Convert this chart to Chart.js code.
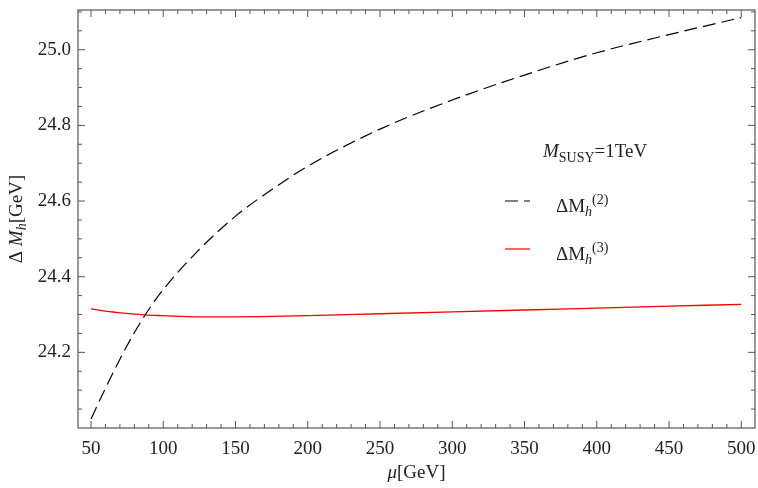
<!DOCTYPE html>
<html>
<head>
<meta charset="utf-8">
<script src="https://cdn.jsdelivr.net/npm/chart.js@4.4.0/dist/chart.umd.min.js"></script>
<style>
  body { margin: 0; background: #fff; }
  #wrap { width: 758px; height: 488px; }
</style>
</head>
<body>
<div id="wrap"><canvas id="canvas"></canvas></div>
<script>
// mu in GeV
const mu = [50, 60, 75, 87, 100, 125, 150, 175, 200, 250, 300, 350, 400, 450, 500];
// Delta M_h^(2)
const dM2 = [24.024, 24.105, 24.218, 24.296, 24.366, 24.472, 24.560, 24.630, 24.692, 24.790, 24.867, 24.933, 24.992, 25.040, 25.085];
// Delta M_h^(3)
const dM3 = [24.315, 24.309, 24.303, 24.299, 24.297, 24.294, 24.294, 24.295, 24.297, 24.302, 24.307, 24.312, 24.317, 24.322, 24.327];

const xTicks = [50, 100, 150, 200, 250, 300, 350, 400, 450, 500];
const yTicks = [24.2, 24.4, 24.6, 24.8, 25.0];

const serif = '"Liberation Serif", "DejaVu Serif", serif';
const frameColor = '#555';

// frame, inward ticks, axis titles and legend
const framePlugin = {
    id: 'frame',
    afterDraw(chart) {
        const c = chart.ctx;
        const a = chart.chartArea;
        const xs = chart.scales.x, ys = chart.scales.y;
        c.save();
        c.strokeStyle = frameColor;
        c.lineWidth = 1.2;
        c.strokeRect(a.left, a.top, a.right - a.left, a.bottom - a.top);

        c.lineWidth = 1;
        function xt(v, len) {
            const p = xs.getPixelForValue(v);
            c.beginPath();
            c.moveTo(p, a.bottom); c.lineTo(p, a.bottom - len);
            c.moveTo(p, a.top); c.lineTo(p, a.top + len);
            c.stroke();
        }
        function yt(v, len) {
            const p = ys.getPixelForValue(v);
            c.beginPath();
            c.moveTo(a.left, p); c.lineTo(a.left + len, p);
            c.moveTo(a.right, p); c.lineTo(a.right - len, p);
            c.stroke();
        }
        for (let v = 50; v <= 500; v += 10) {
            xt(v, v % 50 === 0 ? 7 : 4);
        }
        for (let i = 1; i <= 22; i++) {
            const v = 24 + i * 0.05;
            yt(v, i % 4 === 0 ? 7 : 4);
        }

        c.fillStyle = '#222';
        c.textBaseline = 'alphabetic';
        // x title
        c.font = 'italic 19px ' + serif;
        let w1 = c.measureText('\u03bc').width;
        c.font = '19px ' + serif;
        let w2 = c.measureText('[GeV]').width;
        let x0 = (a.left + a.right) / 2 - (w1 + w2) / 2;
        c.font = 'italic 19px ' + serif;
        c.fillText('\u03bc', x0, 478);
        c.font = '19px ' + serif;
        c.fillText('[GeV]', x0 + w1, 478);

        // y title (rotated)
        c.save();
        c.translate(22, (a.top + a.bottom) / 2);
        c.rotate(-Math.PI / 2);
        const parts = [
            ['\u0394 ', '19px ', 0],
            ['M', 'italic 19px ', 0],
            ['h', 'italic 14px ', 4],
            ['[GeV]', '19px ', 0]
        ];
        let tw = 0;
        parts.forEach(p => { c.font = p[1] + serif; tw += c.measureText(p[0]).width; });
        let px = -tw / 2;
        parts.forEach(p => {
            c.font = p[1] + serif;
            c.fillText(p[0], px, p[2]);
            px += c.measureText(p[0]).width;
        });
        c.restore();

        // M_SUSY label
        let lx = 543;
        c.font = 'italic 19px ' + serif;
        c.fillText('M', lx, 157);
        lx += c.measureText('M').width;
        c.font = '14px ' + serif;
        c.fillText('SUSY', lx, 162);
        lx += c.measureText('SUSY').width;
        c.font = '19px ' + serif;
        c.fillText('=1TeV', lx, 157);

        // legend entries
        function entry(y, label, color, dash) {
            c.strokeStyle = color;
            c.lineWidth = 1.2;
            c.setLineDash(dash);
            c.beginPath();
            c.moveTo(505, y); c.lineTo(530, y);
            c.stroke();
            c.setLineDash([]);
            let tx = 556;
            c.fillStyle = '#222';
            c.font = '19px ' + serif;
            c.fillText('\u0394M', tx, y + 11);
            tx += c.measureText('\u0394M').width;
            c.font = 'italic 14px ' + serif;
            c.fillText('h', tx, y + 15);
            tx += c.measureText('h').width;
            c.font = '14px ' + serif;
            c.fillText(label, tx, y + 3);
        }
        entry(201, '(2)', '#000', [13, 6]);
        entry(249, '(3)', '#ff0000', []);
        c.restore();
    }
};

const ctx = document.getElementById('canvas').getContext('2d');
const myChart = new Chart(ctx, {
    type: 'line',
    data: {
        labels: mu,
        datasets: [{
            label: 'dM2',
            data: mu.map((m, i) => ({ x: m, y: dM2[i] })),
            borderColor: '#000',
            borderWidth: 1.2,
            borderDash: [13, 6],
            pointRadius: 0,
            fill: false,
            cubicInterpolationMode: 'monotone'
        }, {
            label: 'dM3',
            data: mu.map((m, i) => ({ x: m, y: dM3[i] })),
            borderColor: '#ff0000',
            borderWidth: 1.3,
            pointRadius: 0,
            fill: false,
            cubicInterpolationMode: 'monotone'
        }]
    },
    options: {
        responsive: true,
        maintainAspectRatio: false,
        animation: false,
        layout: { padding: { top: 10, right: 3, left: 0, bottom: 0 } },
        plugins: {
            legend: { display: false },
            tooltip: { enabled: false }
        },
        scales: {
            x: {
                type: 'linear',
                min: 41,
                max: 509.5,
                grid: { display: false, drawTicks: false },
                border: { display: false },
                afterBuildTicks: function (s) { s.ticks = xTicks.map(v => ({ value: v })); },
                afterFit: function (s) {
                    s.height = 60;
                    s.paddingLeft = 0; s.paddingRight = 0;
                },
                ticks: {
                    padding: 10,
                    color: '#222',
                    maxRotation: 0,
                    font: { family: serif, size: 19 }
                }
            },
            y: {
                type: 'linear',
                min: 24.0,
                max: 25.105,
                grid: { display: false, drawTicks: false },
                border: { display: false },
                afterBuildTicks: function (s) { s.ticks = yTicks.map(v => ({ value: v })); },
                afterFit: function (s) {
                    s.width = 78;
                    s.paddingTop = 0; s.paddingBottom = 0;
                },
                ticks: {
                    padding: 7,
                    color: '#222',
                    font: { family: serif, size: 19 },
                    callback: function (v) { return v.toFixed(1); }
                }
            }
        }
    },
    plugins: [framePlugin]
});
</script>
</body>
</html>
